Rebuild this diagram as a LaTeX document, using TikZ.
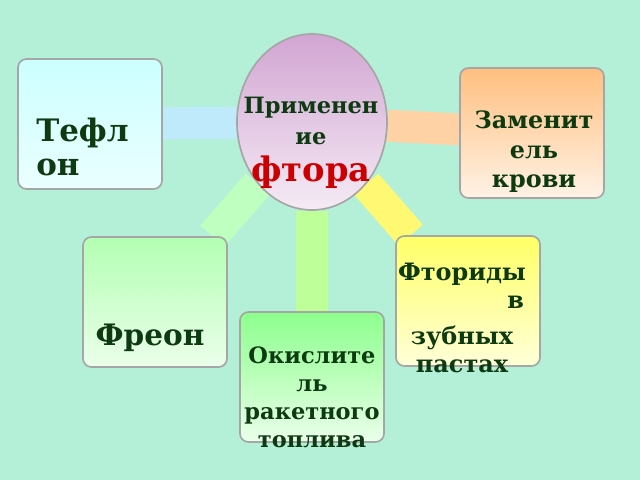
\documentclass[tikz,border=0pt]{standalone}
\usepackage{fontspec}
\setmainfont{DejaVu Serif}
\usetikzlibrary{positioning,backgrounds,shapes.geometric}
\definecolor{bg}{HTML}{B4EFD8}
\definecolor{ink}{HTML}{0E3A12}
\tikzset{
  box/.style={rounded corners=6pt,draw=gray!70,line width=1.2pt,minimum width=144*0.025cm,
    minimum height=130*0.025cm,align=center,text=ink,inner sep=2pt},
  lbl/.style={text=ink,align=center,inner sep=0pt},
  bar/.style={line width=32*0.025cm}
}
\newcommand{\fsz}[2]{\bfseries\fontsize{#1}{#2}\selectfont}
\begin{document}
\begin{tikzpicture}[line cap=butt,line join=round,x=0.025cm,y=-0.025cm]
\useasboundingbox (0,0) rectangle (640,480);
\node[ellipse,draw=gray!70,line width=1.2pt,top color=violet!35,bottom color=violet!8,
  minimum width=150*0.025cm,minimum height=176*0.025cm] (centre) at (312,122) {};
\node[lbl,font=\fsz{16}{22}] (cap) at (311,143)
  {Применен\\ие\\[4pt]{\color{red!80!black}\fontsize{24}{26}\selectfont фтора}};
\node[box,top color=cyan!20,bottom color=cyan!8] (teflon) at (90,124) {};
\node[lbl,font=\fsz{22}{24},align=left,anchor=west] at (36,147) {Тефл\\он};
\node[box,top color=orange!50,bottom color=orange!10] (blood) at (532,133) {};
\node[lbl,font=\fsz{17}{21}] at (534,152) {Заменит\\ель\\крови};
\node[box,top color=green!30,bottom color=green!8] (freon) at (155,302) {};
\node[lbl,font=\fsz{21}{24}] at (150,338) {Фреон};
\node[box,top color=yellow!60,bottom color=yellow!15] (fluor) at (468,301) {};
\node[lbl,font=\fsz{17}{20}] at (462,318)
  {Фториды\\ \hspace*{4.5em}в\\[5pt]зубных\\пастах};
\node[box,top color=green!45,bottom color=green!8] (oxid) at (312,377) {};
\node[lbl,font=\fsz{16}{20}] at (312,397) {Окислите\\ль\\ракетного\\топлива};
\begin{scope}[on background layer]
\fill[bg] (0,0) rectangle (640,480);
\draw[bar,cyan!25] (centre) -- (teflon);
\draw[bar,orange!35] (centre) -- (blood);
\draw[bar,green!50!lime!40] (centre) -- (oxid);
\draw[bar,green!25] (centre) -- (freon);
\draw[bar,yellow!55] (centre) -- (fluor);
\end{scope}
\end{tikzpicture}
\end{document}
